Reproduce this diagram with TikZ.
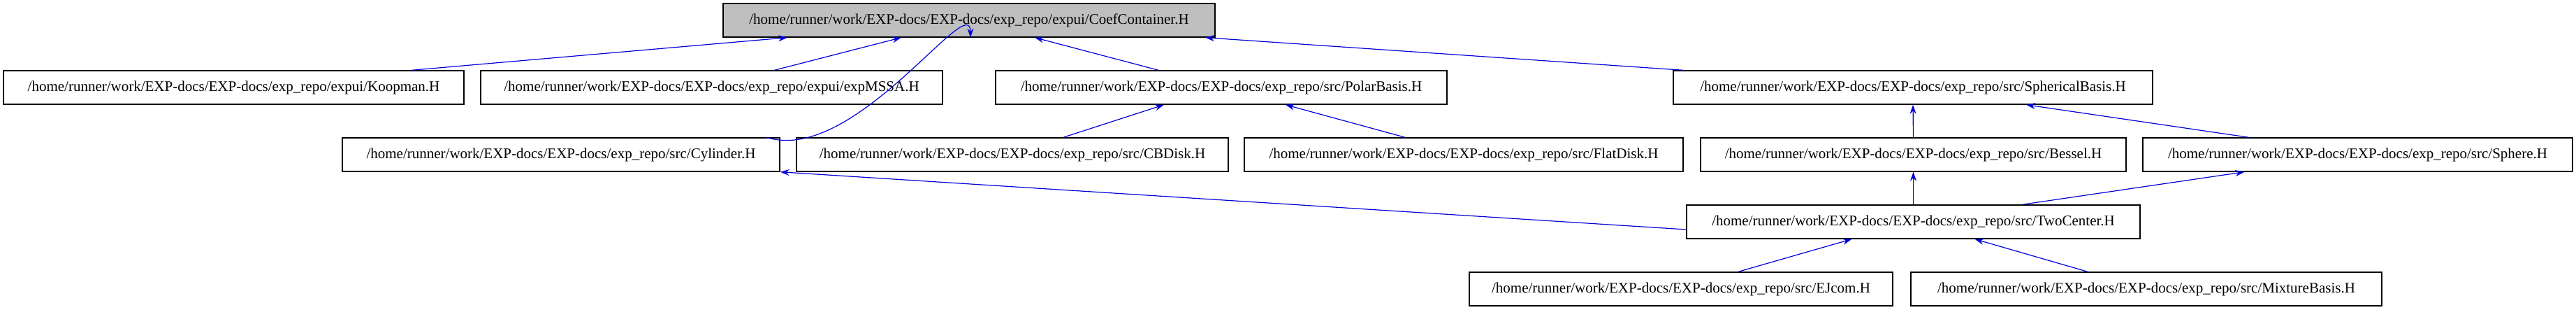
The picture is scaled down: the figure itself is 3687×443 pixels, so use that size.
\documentclass[tikz,border=0pt]{standalone}
\usepackage{fontspec}
\setmainfont{Liberation Serif}
\usetikzlibrary{arrows.meta}

\begin{document}
\begin{tikzpicture}[
    x=1pt,y=-1pt,
    file/.style={rectangle,draw,line width=1.4pt,minimum height=48pt,inner sep=0pt,font=\fontsize{21}{24}\selectfont},
    root/.style={file,fill=black!25},
    dep/.style={-{Stealth[length=13pt,width=9pt]},draw=blue!85!black,line width=1.2pt}
]
    \useasboundingbox (0,0) rectangle (3687,443);

    \node[root,minimum width=704pt] (coef) at (1387,29) {/home/runner/work/EXP-docs/EXP-docs/exp\_repo/expui/CoefContainer.H};

    \node[file,minimum width=659pt] (koopman) at (334.5,125) {/home/runner/work/EXP-docs/EXP-docs/exp\_repo/expui/Koopman.H};
    \node[file,minimum width=661pt] (mssa) at (1018.5,125) {/home/runner/work/EXP-docs/EXP-docs/exp\_repo/expui/expMSSA.H};
    \node[file,minimum width=646pt] (polar) at (1748,125) {/home/runner/work/EXP-docs/EXP-docs/exp\_repo/src/PolarBasis.H};
    \node[file,minimum width=686pt] (spherical) at (2738,125) {/home/runner/work/EXP-docs/EXP-docs/exp\_repo/src/SphericalBasis.H};

    \node[file,minimum width=626pt] (cylinder) at (803,221) {/home/runner/work/EXP-docs/EXP-docs/exp\_repo/src/Cylinder.H};
    \node[file,minimum width=618pt] (cbdisk) at (1449,221) {/home/runner/work/EXP-docs/EXP-docs/exp\_repo/src/CBDisk.H};
    \node[file,minimum width=628pt] (flatdisk) at (2095,221) {/home/runner/work/EXP-docs/EXP-docs/exp\_repo/src/FlatDisk.H};
    \node[file,minimum width=609pt] (bessel) at (2738.5,221) {/home/runner/work/EXP-docs/EXP-docs/exp\_repo/src/Bessel.H};
    \node[file,minimum width=615pt] (sphere) at (3374.5,221) {/home/runner/work/EXP-docs/EXP-docs/exp\_repo/src/Sphere.H};

    \node[file,minimum width=649pt] (twocenter) at (2738.5,317) {/home/runner/work/EXP-docs/EXP-docs/exp\_repo/src/TwoCenter.H};

    \node[file,minimum width=606pt] (ejcom) at (2406,413) {/home/runner/work/EXP-docs/EXP-docs/exp\_repo/src/EJcom.H};
    \node[file,minimum width=674pt] (mixture) at (3072,413) {/home/runner/work/EXP-docs/EXP-docs/exp\_repo/src/MixtureBasis.H};

    % includes, arrow on the included file
    \draw[dep] ([xshift=255pt]koopman.north) -- ([xshift=-260pt]coef.south);
    \draw[dep] ([xshift=90pt]mssa.north) -- ([xshift=-97pt]coef.south);
    \draw[dep] ([xshift=294pt]cylinder.north) .. controls ([xshift=420pt,yshift=-40pt]cylinder.north) and ([xshift=2pt,yshift=70pt]coef.south) .. ([xshift=2pt]coef.south);
    \draw[dep] ([xshift=-90pt]polar.north) -- ([xshift=94pt]coef.south);
    \draw[dep] ([xshift=-329pt]spherical.north) -- ([xshift=338pt]coef.south);
    \draw[dep] ([xshift=73pt]cbdisk.north) -- ([xshift=-82pt]polar.south);
    \draw[dep] ([xshift=-84pt]flatdisk.north) -- ([xshift=92pt]polar.south);
    \draw[dep] (bessel.north) -- (spherical.south);
    \draw[dep] ([xshift=-156pt]sphere.north) -- ([xshift=162pt]spherical.south);
    \draw[dep] ([yshift=-11pt]twocenter.west) -- (cylinder.south east);
    \draw[dep] (twocenter.north) -- (bessel.south);
    \draw[dep] ([xshift=156pt]twocenter.north) -- ([xshift=-162pt]sphere.south);
    \draw[dep] ([xshift=82pt]ejcom.north) -- ([xshift=-88pt]twocenter.south);
    \draw[dep] ([xshift=-84pt]mixture.north) -- ([xshift=88pt]twocenter.south);
\end{tikzpicture}
\end{document}
